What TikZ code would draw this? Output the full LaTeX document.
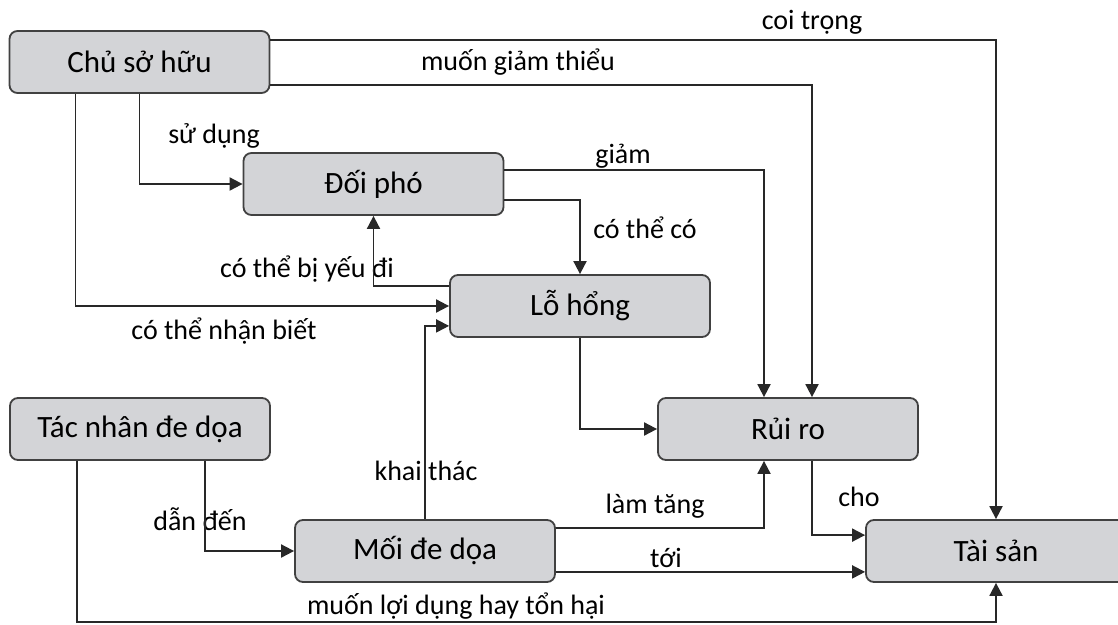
\documentclass[tikz,border=0pt]{standalone}
\usepackage{fontspec}
\setmainfont{Carlito}
\usepackage{tikz}
\usetikzlibrary{arrows.meta}
\usetikzlibrary{positioning}

\definecolor{boxgray}{RGB}{211,212,215}
\definecolor{edgegray}{RGB}{65,65,65}
\definecolor{linegray}{RGB}{40,40,40}

\begin{document}
\begin{tikzpicture}[
    x=1pt, y=-1pt,
    box/.style={draw=edgegray, line width=1.8pt, fill=boxgray,
      rounded corners=8pt, minimum width=260pt, minimum height=62pt,
      inner sep=0pt, font=\fontsize{31}{36}\selectfont},
    lbl/.style={inner sep=0pt, font=\fontsize{28}{32}\selectfont},
    arr/.style={draw=linegray, line width=1.9pt,
      -{Triangle[length=13pt, width=13pt]}}]

    \useasboundingbox (0, 0) rectangle (1118, 624);

    \node [box] (own) at (139.5, 62) {Chủ sở hữu};
    \node [box] (counter) at (373.5, 184) {Đối phó};
    \node [box] (vuln) at (580, 306) {Lỗ hổng};
    \node [box] (risk) at (788, 429) {Rủi ro};
    \node [box] (agent) at (140, 429) {Tác nhân đe dọa};
    \node [box] (threat) at (425, 551) {Mối đe dọa};
    \node [box] (asset) at (996, 551) {Tài sản};

    \foreach \n/\x/\y/\t in {
      lvalue/812/22/coi trọng, lminimize/518/62/muốn giảm thiểu,
      luse/214/136/sử dụng, lreduce/623/156/giảm,
      lmayhave/645/228/có thể có, lweaken/307/269/có thể bị yếu đi,
      laware/224/331/có thể nhận biết, lexploit/426/471/khai thác,
      lgive/200/519/dẫn đến, lincrease/655/506/làm tăng,
      lto/859/497/cho, lreach/666/558/tới,
      labuse/456/606/muốn lợi dụng hay tổn hại} {
      \node [lbl] (\n) at (\x, \y) {\t};
    }

    \coordinate (bottom) at (0, 622);
    \coordinate (tostart) at ([yshift=11pt]threat.south east);

    \draw [arr] ([yshift=-10pt]own.north east) -| (asset.north);
    \draw [arr] ([yshift=9pt]own.south east) -| ([xshift=24pt]risk.north);
    \draw [arr] (own.south) |- (counter.west);
    \draw [arr] ([xshift=-64pt]own.south) |- (vuln.west);
    \draw [arr] ([yshift=-18pt]counter.north east) -| ([xshift=-24pt]risk.north);
    \draw [arr] ([yshift=16pt]counter.south east) -| (vuln.north);
    \draw [arr] ([yshift=-12pt]vuln.north west) -| (counter.south);
    \draw [arr] (vuln.south) |- (risk.west);
    \draw [arr] (threat.north) |- ([yshift=12pt]vuln.south west);
    \draw [arr] ([xshift=65pt]agent.south) |- (threat.west);
    \draw [arr] ([xshift=-63pt]agent.south) -- ([xshift=-63pt]agent.south |- bottom)
      -| (asset.south);
    \draw [arr] ([yshift=-9pt]threat.north east) -| ([xshift=-24pt]risk.south);
    \draw [arr] (tostart) -- (tostart -| asset.west);
    \draw [arr] ([xshift=24pt]risk.south) |- ([yshift=-16pt]asset.north west);

  \end{tikzpicture}
\end{document}
